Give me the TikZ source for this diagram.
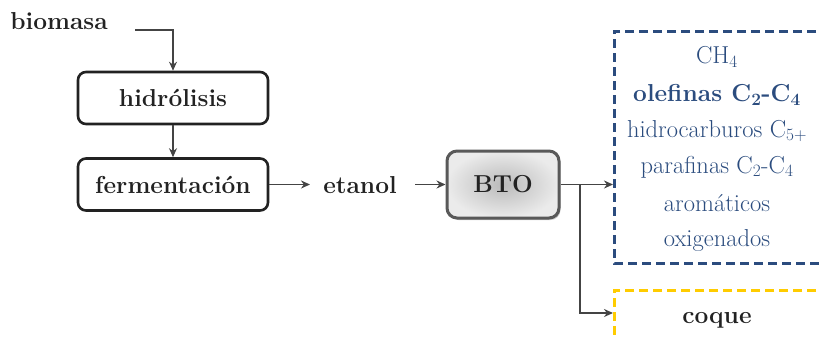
\documentclass[tikz,border=0pt]{standalone}
\usetikzlibrary{arrows.meta,shadows,positioning}
\definecolor{prodblue}{HTML}{2B4C7E}
\definecolor{cokeyellow}{HTML}{FFCC00}
\definecolor{ink}{HTML}{222222}
\definecolor{edge}{HTML}{444444}
\tikzset{
  bigfont/.style={font=\fontsize{24.5}{28}\selectfont},
  procbox/.style={draw=ink, line width=2.6pt, rounded corners=8pt, minimum width=190pt,
    minimum height=52pt, text=ink, font=\fontsize{24.5}{28}\selectfont\bfseries},
  reactor/.style={draw=black!65, line width=3pt, rounded corners=10pt, minimum width=112pt,
    minimum height=67pt, inner color=black!27, outer color=black!8,
    drop shadow={shadow xshift=1.5pt, shadow yshift=-2pt, opacity=0.35, fill=black!60},
    text=ink, font=\fontsize{24.5}{28}\selectfont\bfseries},
  plain/.style={text=ink, font=\fontsize{24.5}{28}\selectfont\bfseries, inner sep=0pt},
  prod/.style={text=prodblue, font=\fontsize{24.5}{28}\selectfont, inner sep=0pt},
  flow/.style={draw=edge, line width=1.8pt, -{Stealth[length=9pt,width=8pt]}},
  bluedash/.style={draw=prodblue, line width=3pt, dash pattern=on 9pt off 5pt},
  yellowdash/.style={draw=cokeyellow, line width=3pt, dash pattern=on 9pt off 5pt},
}
\begin{document}
\begin{tikzpicture}[x=1pt,y=-1pt]
\useasboundingbox (0,0) rectangle (819,338);
\clip (0,0) rectangle (819,338);

% feed and pretreatment
\node[plain] (bio) at (59,21) {biomasa};
\coordinate (bioout) at (135,30);
\node[procbox] (hid) at (173,98) {hidrólisis};
\node[procbox] (fer) at (173,184.5) {fermentación};
\node[plain] (eta) at (360,185) {etanol};
\coordinate (etain) at (310,184.5);
\coordinate (etaout) at (415,184.5);
\node[reactor] (bto) at (503,184.5) {BTO};

% product groups
\draw[bluedash] (830,31) -- (614,31) -- (614,263) -- (830,263);
\draw[yellowdash] (830,290) -- (614,290) -- (614,345);
\coordinate (gasin) at (613,184.5);
\coordinate (split) at (580,184.5);
\coordinate (splitdown) at (580,313);
\coordinate (cokein) at (613,313);

\node[prod] (ch4) at (717,57) {CH$_4$};
\node[prod, font=\fontsize{24.5}{28}\selectfont\bfseries] (ole) at (717,95) {olefinas C$_\mathbf{2}$-C$_\mathbf{4}$};
\node[prod] (hc) at (717,131) {hidrocarburos C$_{5+}$};
\node[prod] (par) at (717,167) {parafinas C$_2$-C$_4$};
\node[prod] (aro) at (717,203) {aromáticos};
\node[prod] (oxi) at (717,240) {oxigenados};
\node[plain] (coq) at (717,320) {coque};

% connectors
\draw[flow] (bioout) -| (hid.north);
\draw[flow] (hid.south) -- (fer.north);
\draw[flow] (fer.east) -- (etain);
\draw[flow] (etaout) -- (bto.west);
\draw[flow] (bto.east) -- (gasin);
\draw[flow] (split) -- (splitdown) -- (cokein);
\end{tikzpicture}
\end{document}
